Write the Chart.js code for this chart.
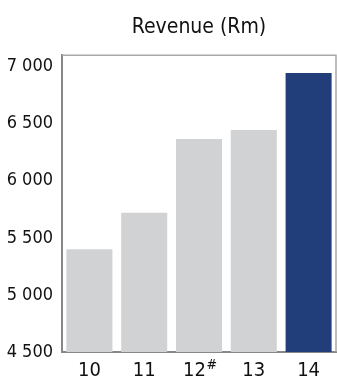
<!DOCTYPE html>
<html>
<head>
<meta charset="utf-8">
<script src="https://cdn.jsdelivr.net/npm/chart.js@4.4.0/dist/chart.umd.min.js"></script>
<style>
  html, body { margin: 0; padding: 0; background: #fff; }
</style>
</head>
<body>
<canvas id="revenueChart" width="337" height="376"></canvas>
<script>
const years = ["10", "11", "12", "13", "14"];
const yearNotes = ["", "", "#", "", ""];
const revenue = [5400, 5720, 6365, 6445, 6945];
const barColours = ["#d1d2d4", "#d1d2d4", "#d1d2d4", "#d1d2d4", "#213e7b"];
const yTicks = [4500, 5000, 5500, 6000, 6500, 7000];

const fontFamily = "'DejaVu Sans Condensed', 'Liberation Sans Narrow', sans-serif";
const xFontSize = 20;

function spaced(v) {
  return String(v).replace(/\B(?=(\d{3})+$)/g, " ");
}

// top + right frame lines, lighter than the axes
const framePlugin = {
  id: "frame",
  beforeDatasetsDraw(chart) {
    const a = chart.chartArea;
    const ctx = chart.ctx;
    ctx.save();
    ctx.strokeStyle = "#a8a8a8";
    ctx.lineWidth = 1.5;
    ctx.beginPath();
    ctx.moveTo(a.left, a.top);
    ctx.lineTo(a.right, a.top);
    ctx.lineTo(a.right, a.bottom);
    ctx.stroke();
    ctx.restore();
  }
};

// small raised note after a year label (12#)
const notePlugin = {
  id: "notes",
  afterDraw(chart) {
    const ctx = chart.ctx;
    const xs = chart.scales.x;
    ctx.save();
    yearNotes.forEach((note, i) => {
      if (!note) return;
      ctx.font = xFontSize + "px " + fontFamily;
      const full = ctx.measureText(years[i] + "\u2002").width;
      const base = ctx.measureText(years[i]).width;
      const x = xs.getPixelForValue(i) - full / 2 + base + 0.5;
      ctx.font = "14px " + fontFamily;
      ctx.fillStyle = "#111";
      ctx.textBaseline = "top";
      ctx.textAlign = "left";
      ctx.fillText(note, x, chart.chartArea.bottom + 6);
    });
    ctx.restore();
  }
};

new Chart(document.getElementById("revenueChart"), {
  type: "bar",
  data: {
    labels: years,
    datasets: [{
      data: revenue,
      backgroundColor: barColours,
      borderWidth: 0,
      categoryPercentage: 1,
      barPercentage: 0.84
    }]
  },
  options: {
    responsive: false,
    animation: false,
    layout: { padding: { left: 0, right: 1, top: 0, bottom: 0 } },
    plugins: {
      legend: { display: false },
      tooltip: { enabled: false },
      title: {
        display: true,
        text: "Revenue (Rm)",
        fullSize: false,
        color: "#111",
        font: { family: fontFamily, size: 21, weight: "normal", lineHeight: 1.2 },
        padding: { top: 15, bottom: 15 }
      }
    },
    scales: {
      x: {
        grid: { display: false, drawTicks: false },
        border: { color: "#888", width: 2 },
        ticks: {
          color: "#111",
          padding: 7,
          font: { family: fontFamily, size: xFontSize },
          callback: (v, i) => years[i] + (yearNotes[i] ? "\u2002" : "")
        },
        afterFit: s => { s.height = 24; }
      },
      y: {
        min: 4500,
        max: 7100,
        grid: { display: false, drawTicks: false },
        border: { color: "#888", width: 2 },
        afterBuildTicks: s => { s.ticks = yTicks.map(v => ({ value: v })); },
        ticks: {
          color: "#111",
          padding: 9,
          font: { family: fontFamily, size: 18 },
          callback: v => spaced(v)
        },
        afterFit: s => { s.width = 62; }
      }
    }
  },
  plugins: [framePlugin, notePlugin]
});
</script>
</body>
</html>
